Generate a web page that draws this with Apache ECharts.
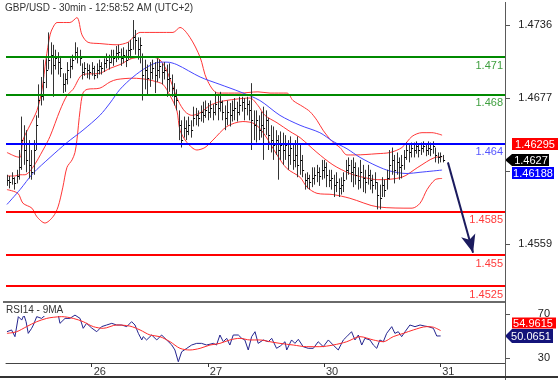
<!DOCTYPE html>
<html><head><meta charset="utf-8">
<script src="https://cdn.jsdelivr.net/npm/echarts@6/dist/echarts.min.js"></script>
<style>html,body{margin:0;padding:0;background:#fff}#c{width:558px;height:380px}</style>
</head><body><div id="c"></div>
<script>
const priceHigh = [1.4615,1.4614,1.4617,1.4613,1.4619,1.4635,1.4662,1.4655,1.4651,1.4643,
1.4635,1.4643,1.4663,1.4688,1.4694,1.4708,1.4709,1.4730,1.4722,1.4720,
1.4716,1.4714,1.4711,1.4697,1.4697,1.4706,1.4709,1.4712,1.4722,1.4718,
1.4716,1.4705,1.4706,1.4705,1.4704,1.4706,1.4703,1.4705,1.4708,1.4706,
1.4709,1.4713,1.4712,1.4716,1.4716,1.4719,1.4720,1.4717,1.4718,1.4716,
1.4722,1.4724,1.4740,1.4732,1.4726,1.4726,1.4713,1.4708,1.4704,1.4706,
1.4708,1.4706,1.4709,1.4708,1.4705,1.4706,1.4704,1.4705,1.4696,1.4689,
1.4684,1.4667,1.4659,1.4662,1.4659,1.4662,1.4659,1.4670,1.4669,1.4667,
1.4671,1.4674,1.4675,1.4673,1.4675,1.4672,1.4682,1.4679,1.4682,1.4675,
1.4671,1.4675,1.4673,1.4675,1.4677,1.4674,1.4678,1.4678,1.4677,1.4678,
1.4675,1.4689,1.4667,1.4667,1.4663,1.4666,1.4670,1.4667,1.4661,1.4655,
1.4654,1.4651,1.4647,1.4650,1.4649,1.4647,1.4643,1.4646,1.4639,1.4643,
1.4646,1.4639,1.4631,1.4616,1.4617,1.4615,1.4621,1.4621,1.4623,1.4621,
1.4627,1.4627,1.4625,1.4619,1.4619,1.4615,1.4617,1.4612,1.4613,1.4617,
1.4627,1.4629,1.4627,1.4629,1.4625,1.4621,1.4627,1.4623,1.4619,1.4623,
1.4619,1.4615,1.4617,1.4609,1.4607,1.4613,1.4611,1.4619,1.4635,1.4637,
1.4631,1.4633,1.4629,1.4631,1.4635,1.4641,1.4639,1.4641,1.4641,1.4642,
1.4640,1.4641,1.4642,1.4640,1.4642,1.4641,1.4642,1.4637,1.4633,1.4633,
1.4631];
const priceLow = [1.4606,1.4604,1.4607,1.4603,1.4608,1.4611,1.4619,1.4623,1.4617,1.4612,
1.4611,1.4615,1.4635,1.4661,1.4671,1.4675,1.4685,1.4700,1.4696,1.4678,
1.4700,1.4696,1.4694,1.4681,1.4682,1.4688,1.4693,1.4700,1.4708,1.4705,
1.4703,1.4692,1.4695,1.4693,1.4692,1.4695,1.4692,1.4693,1.4696,1.4696,
1.4698,1.4701,1.4700,1.4705,1.4703,1.4706,1.4708,1.4703,1.4705,1.4702,
1.4708,1.4709,1.4716,1.4712,1.4708,1.4705,1.4675,1.4684,1.4679,1.4686,
1.4692,1.4681,1.4690,1.4693,1.4688,1.4692,1.4678,1.4682,1.4678,1.4671,
1.4667,1.4643,1.4637,1.4645,1.4643,1.4647,1.4645,1.4654,1.4655,1.4654,
1.4658,1.4657,1.4661,1.4659,1.4661,1.4659,1.4663,1.4659,1.4666,1.4659,
1.4651,1.4655,1.4654,1.4658,1.4659,1.4658,1.4663,1.4666,1.4659,1.4663,
1.4659,1.4635,1.4643,1.4641,1.4643,1.4645,1.4627,1.4647,1.4635,1.4633,
1.4627,1.4631,1.4611,1.4627,1.4623,1.4627,1.4619,1.4623,1.4619,1.4621,
1.4613,1.4615,1.4613,1.4603,1.4604,1.4603,1.4605,1.4607,1.4609,1.4606,
1.4611,1.4612,1.4605,1.4605,1.4603,1.4597,1.4601,1.4597,1.4599,1.4601,
1.4611,1.4615,1.4609,1.4605,1.4607,1.4603,1.4604,1.4601,1.4600,1.4607,
1.4603,1.4600,1.4603,1.4587,1.4587,1.4597,1.4597,1.4603,1.4611,1.4615,
1.4608,1.4615,1.4611,1.4612,1.4619,1.4627,1.4625,1.4629,1.4629,1.4632,
1.4629,1.4631,1.4633,1.4630,1.4631,1.4630,1.4632,1.4625,1.4624,1.4625,
1.4625];
const priceClose = [1.4611,1.4609,1.4612,1.4608,1.4614,1.4621,1.4643,1.4635,1.4627,1.4623,
1.4617,1.4635,1.4655,1.4675,1.4679,1.4690,1.4700,1.4708,1.4712,1.4704,
1.4709,1.4706,1.4701,1.4688,1.4692,1.4700,1.4703,1.4708,1.4714,1.4711,
1.4709,1.4698,1.4701,1.4700,1.4698,1.4701,1.4696,1.4700,1.4703,1.4701,
1.4705,1.4708,1.4706,1.4711,1.4709,1.4713,1.4714,1.4709,1.4712,1.4708,
1.4716,1.4717,1.4726,1.4724,1.4717,1.4720,1.4696,1.4700,1.4693,1.4698,
1.4701,1.4696,1.4700,1.4703,1.4698,1.4700,1.4692,1.4693,1.4685,1.4679,
1.4675,1.4655,1.4643,1.4653,1.4650,1.4655,1.4651,1.4661,1.4663,1.4661,
1.4666,1.4663,1.4667,1.4666,1.4669,1.4666,1.4672,1.4669,1.4674,1.4666,
1.4661,1.4666,1.4663,1.4667,1.4669,1.4666,1.4671,1.4674,1.4669,1.4672,
1.4667,1.4659,1.4655,1.4659,1.4651,1.4655,1.4653,1.4659,1.4647,1.4643,
1.4639,1.4643,1.4635,1.4639,1.4635,1.4639,1.4631,1.4637,1.4627,1.4631,
1.4623,1.4627,1.4619,1.4611,1.4612,1.4609,1.4612,1.4615,1.4617,1.4614,
1.4619,1.4621,1.4615,1.4611,1.4612,1.4607,1.4609,1.4604,1.4607,1.4611,
1.4619,1.4623,1.4617,1.4621,1.4615,1.4611,1.4617,1.4612,1.4609,1.4615,
1.4611,1.4607,1.4609,1.4599,1.4596,1.4607,1.4603,1.4612,1.4623,1.4627,
1.4619,1.4625,1.4621,1.4623,1.4629,1.4635,1.4633,1.4637,1.4635,1.4638,
1.4635,1.4637,1.4638,1.4635,1.4637,1.4636,1.4638,1.4631,1.4629,1.4630,
1.4627];

const bbUpper = [[0,1.4633],[3.3,1.4630],[5.4,1.4629],[6.6,1.4643],[9.5,1.4655],[12.4,1.4667],[14.5,1.4684],[16.1,1.4708],[17.8,1.4728],[19.0,1.4734],[20.7,1.4738],[26.0,1.4738],[28.9,1.4742],[31.0,1.4728],[33.5,1.4722],[38.4,1.4721],[45.5,1.4720],[50.0,1.4722],[52.1,1.4726],[55.0,1.4730],[63.2,1.4730],[68.6,1.4730],[71.5,1.4734],[75.6,1.4726],[79.8,1.4710],[82.6,1.4692],[87.2,1.4681],[96.3,1.4681],[103.7,1.4682],[108.7,1.4681],[115.7,1.4681],[118.2,1.4675],[122.3,1.4670],[125.2,1.4666],[128.1,1.4659],[130.6,1.4651],[134.3,1.4642],[137.6,1.4637],[140.5,1.4631],[143.8,1.4631],[152.9,1.4632],[158.3,1.4633],[163.2,1.4637],[167.4,1.4646],[171.5,1.4649],[175.6,1.4649],[179.8,1.4647]];
const bbMiddle = [[0,1.4614],[3.3,1.4614],[5.4,1.4615],[7.4,1.4615],[10.7,1.4621],[14.9,1.4635],[17.8,1.4646],[21.9,1.4667],[24.8,1.4679],[27.3,1.4684],[31.4,1.4696],[38.4,1.4697],[42.6,1.4701],[46.7,1.4704],[51.7,1.4709],[58.3,1.4710],[62.4,1.4709],[65.3,1.4702],[68.2,1.4688],[70.7,1.4675],[73.6,1.4666],[76.4,1.4663],[79.8,1.4665],[83.9,1.4671],[88.0,1.4674],[94.2,1.4676],[100.4,1.4677],[103.7,1.4671],[106.6,1.4663],[111.6,1.4657],[116.9,1.4650],[121.1,1.4645],[128.1,1.4633],[134.7,1.4623],[141.7,1.4616],[147.1,1.4613],[153.3,1.4611],[163.2,1.4613],[169.8,1.4621],[176.9,1.4629],[179.8,1.46295]];
const bbLower = [[0,1.4603],[4.5,1.4600],[6.6,1.4592],[10.3,1.4588],[12.4,1.4581],[15.7,1.4576],[19.0,1.4581],[21.1,1.4589],[23.1,1.4605],[24.8,1.4621],[26.9,1.4627],[28.1,1.4633],[28.9,1.4643],[30.2,1.4667],[31.4,1.4681],[33.1,1.4684],[38.4,1.4685],[42.6,1.4690],[45.5,1.4692],[52.1,1.4693],[57.9,1.4692],[62.0,1.4690],[64.5,1.4688],[67.4,1.4679],[70.2,1.4667],[71.5,1.4651],[74.4,1.4641],[78.5,1.4635],[81.8,1.4637],[85.1,1.4643],[90.9,1.4654],[97.5,1.4658],[102.5,1.4656],[106.6,1.4647],[111.6,1.4631],[115.7,1.4620],[121.1,1.4613],[124.0,1.4605],[128.1,1.4600],[134.7,1.4599],[141.7,1.4596],[153.3,1.4589],[167.4,1.4588],[170.7,1.4592],[173.6,1.4603],[176.9,1.4611],[179.8,1.4612]];
const maBlue = [[0,1.4591],[5.4,1.4603],[10.7,1.4616],[17.8,1.4629],[24.8,1.4641],[31.4,1.4651],[38.4,1.4663],[42.6,1.4673],[46.7,1.4684],[52.1,1.4694],[57.9,1.4702],[63.2,1.4706],[66.1,1.4706],[70.2,1.4704],[79.8,1.4694],[88.0,1.4688],[96.3,1.4682],[104.5,1.4675],[112.8,1.4663],[121.1,1.4655],[129.3,1.4649],[134.7,1.4642],[140.5,1.4636],[145.9,1.4629],[152.9,1.4622],[158.3,1.4618],[165.3,1.4616],[170.7,1.4617],[179.8,1.46188]];

const rsiLine = [[0,53.9],[1.9,55.5],[3.3,49.4],[4.7,67.6],[6.1,64.5],[7.0,69.1],[7.9,63],[8.8,52.4],[10.2,57],[10.9,60],[12.3,67.6],[14.3,66],[16.4,70],[19.1,71],[21.2,69.1],[21.9,61.5],[24.0,66],[26.0,66],[28.1,69],[30.2,66],[31.5,57],[32.9,61.5],[35.0,57.3],[37.1,53.9],[39.1,58.5],[41.2,60],[43.3,61.5],[45.3,60],[47.4,60],[49.5,58.5],[51.5,63],[52.9,60],[54.3,52.4],[55.7,46.4],[56.3,49.4],[57.7,46.4],[59.8,50.9],[61.9,46.4],[63.9,50.9],[66.0,46.4],[68.1,41.8],[69.4,37.3],[70.8,26.6],[72.2,35.7],[74.3,38.8],[76.3,41.8],[78.4,43.3],[80.4,43.3],[82.5,41.8],[85.3,43.3],[86.6,41.8],[88.0,50.9],[89.4,44.8],[90.8,47.9],[92.1,41.8],[93.5,50.9],[95.6,50.9],[97.0,47.9],[98.3,46.4],[99.7,37.3],[101.1,49.4],[102.5,53.9],[103.8,43.3],[105.9,46.4],[108.0,44.8],[109.4,47.9],[111.4,38.8],[113.0,41],[114.9,44.8],[115.6,37.3],[117.6,46.4],[119.0,43.3],[120.4,47],[122.4,40.3],[124.5,38.8],[126.6,38.8],[128.6,44.8],[130.7,40.3],[132.8,46.4],[134.8,41.8],[136.9,37.3],[139.0,46.4],[140.4,49.4],[142.4,53.9],[143.8,46.4],[145.2,50.9],[146.6,41.8],[147.9,47.9],[150.0,46.4],[151.4,41.8],[152.8,38.8],[154.1,46.4],[155.5,44.8],[156.9,52.4],[159.0,58.5],[160.3,52.4],[161.7,53.9],[163.1,49.4],[164.5,53.9],[166.5,60],[168.6,58.5],[170.7,60],[172.7,59],[174.1,58.5],[176.2,57],[177.6,50],[179.2,50.0651]];
const rsiMA = [[0,52.4],[4.0,53.9],[8.1,58.5],[12.3,63],[16.4,66],[19.1,67],[22.6,67.6],[27.4,66],[31.5,63],[35.7,58.5],[39.8,57],[45.3,60],[50.8,59],[55.0,55.5],[59.1,50.9],[63.2,49.4],[67.4,44.8],[71.5,38.8],[75.6,37.3],[79.8,38.8],[83.9,41.8],[88.0,43.3],[92.1,46.4],[96.3,47.9],[100.4,46.4],[104.5,46.4],[108.7,44.8],[112.8,43.3],[118.3,41.8],[123.8,40.3],[129.3,40.3],[134.8,41.8],[140.4,44.8],[145.9,49.4],[151.4,46.4],[155.5,44.8],[159.6,49.4],[163.8,52.4],[167.9,55.5],[173.4,58.5],[176.2,58],[179.2,54.9615]];

const levels = [1.471, 1.468, 1.464, 1.4585, 1.455, 1.4525];
const priceTicks = [1.4736, 1.4677, 1.4618, 1.4559];
const priceTickLabels = [1.4736, 1.4677, 1.4559];
const rsiTicks = [70, 30];
const dayTicks = [35, 83, 131, 179];
const dayLabels = ['26', '27', '30', '31'];
const priceTags = [1.46295, 1.4627, 1.46188];
const rsiTags = [54.9615, 50.0651];
const arrowFrom = [182.2, 1.4625];
const arrowTo = [192.6, 1.4552];

const FONT = 'Liberation Sans, Arial, sans-serif';
const X_MIN = -0.4, X_MAX = 205.8;
const levelLine = ['#008a00', '#008a00', '#0000ff', '#ff0000', '#ff0000', '#ff0000'];
const levelText = ['#3f9f3f', '#3f9f3f', '#5656ff', '#ff3b3b', '#ff3b3b', '#ff3b3b'];

const bars = priceHigh.map((h, i) => [i, h, priceLow[i], priceClose[i]]);

function tagRenderer(styles) {
  return function (params, api) {
    const k = params.dataIndex;
    const s = styles[k];
    const pt = api.coord([api.value(0), api.value(1)]);
    const x0 = params.coordSys.x + params.coordSys.width;
    const y = Math.round(pt[1] + s.dy);
    const hh = s.h / 2;
    let pts;
    if (s.arrow) {
      pts = [[x0, y], [x0 + 7, y - hh], [s.x2, y - hh], [s.x2, y + hh], [x0 + 7, y + hh]];
    } else {
      pts = [[s.x1, y - hh], [s.x2, y - hh], [s.x2, y + hh], [s.x1, y + hh]];
    }
    return {
      type: 'group',
      children: [
        { type: 'polygon', shape: { points: pts }, style: { fill: s.fill } },
        { type: 'text', style: { text: String(s.values[k]), x: s.tx, y: y + 0.5, fill: '#fff', font: '11px ' + FONT, align: 'center', verticalAlign: 'middle' } }
      ]
    };
  };
}

function tickRenderer(params, api) {
  const pt = api.coord([api.value(0), api.value(1)]);
  const x0 = params.coordSys.x + params.coordSys.width;
  const y = Math.round(pt[1]) + 0.5;
  return { type: 'line', shape: { x1: x0, y1: y, x2: x0 + 5, y2: y }, style: { stroke: '#555', lineWidth: 1 } };
}

const priceTagStyle = [
  { fill: '#ff0000', dy: -13, h: 12, x1: 512, x2: 560, tx: 535, values: priceTags },
  { fill: '#000000', dy: 0, h: 12, arrow: true, x2: 549, tx: 531, values: priceTags },
  { fill: '#0000ff', dy: 3, h: 12, x1: 512, x2: 554, tx: 533, values: priceTags }
];
const rsiTagStyle = [
  { fill: '#ff0000', dy: -8, h: 11, x1: 512, x2: 556, tx: 533, values: rsiTags },
  { fill: '#14147a', dy: 0, h: 14, arrow: true, x2: 553, tx: 531, values: rsiTags }
];

const chart = echarts.init(document.getElementById('c'), null, { renderer: 'canvas' });
chart.setOption({
  animation: false,
  backgroundColor: '#ffffff',
  textStyle: { fontFamily: FONT },
  title: [
    { text: 'GBP/USD - 30min - 12:58:52 AM (UTC+2)', left: 5, top: 3, padding: 0,
      textStyle: { fontSize: 10, fontWeight: 'normal', color: '#333', fontFamily: FONT } },
    { text: 'RSI14 - 9MA', left: 5, top: 304, padding: [1, 2, 1, 1], backgroundColor: '#fff',
      textStyle: { fontSize: 10, fontWeight: 'normal', color: '#333', fontFamily: FONT } }
  ],
  grid: [
    { left: 6, right: 53, top: 0, height: 300 },
    { left: 6, right: 53, top: 302, height: 61 }
  ],
  xAxis: [
    { type: 'value', gridIndex: 0, min: X_MIN, max: X_MAX, show: false },
    { type: 'value', gridIndex: 1, min: X_MIN, max: X_MAX,
      axisLine: { show: true, lineStyle: { color: '#444', width: 1 } },
      axisTick: { show: true, customValues: dayTicks, length: 4, inside: false, lineStyle: { color: '#333' } },
      axisLabel: { show: true, customValues: dayTicks, formatter: v => dayLabels[dayTicks.indexOf(v)],
        align: 'left', margin: 3, padding: [0, 0, 0, 2], fontSize: 11, color: '#333', fontFamily: FONT },
      splitLine: { show: false } }
  ],
  yAxis: [
    { type: 'value', gridIndex: 0, position: 'right', min: 1.45138, max: 1.47562,
      axisLine: { show: false }, axisTick: { show: false },
      axisLabel: { show: true, customValues: priceTickLabels, formatter: v => v.toFixed(4),
        align: 'right', margin: 47, fontSize: 11, color: '#222', fontFamily: FONT },
      splitLine: { show: false } },
    { type: 'value', gridIndex: 1, position: 'right', min: 25.46, max: 80.91,
      axisLine: { show: false }, axisTick: { show: false },
      axisLabel: { show: true, customValues: rsiTicks, formatter: v => String(v),
        align: 'right', margin: 45, fontSize: 11, color: '#222', fontFamily: FONT },
      splitLine: { show: false } }
  ],
  series: [
    { type: 'line', name: 'bbUpper', xAxisIndex: 0, yAxisIndex: 0, data: bbUpper, showSymbol: false, smooth: 0.3,
      lineStyle: { color: '#ff3636', width: 1 }, z: 3 },
    { type: 'line', name: 'bbMiddle', xAxisIndex: 0, yAxisIndex: 0, data: bbMiddle, showSymbol: false, smooth: 0.3,
      lineStyle: { color: '#ff3636', width: 1 }, z: 3 },
    { type: 'line', name: 'bbLower', xAxisIndex: 0, yAxisIndex: 0, data: bbLower, showSymbol: false, smooth: 0.3,
      lineStyle: { color: '#ff3636', width: 1 }, z: 3 },
    { type: 'line', name: 'ma', xAxisIndex: 0, yAxisIndex: 0, data: maBlue, showSymbol: false, smooth: 0.3,
      lineStyle: { color: '#4646ff', width: 1 }, z: 3,
      markLine: {
        silent: true, animation: false, symbol: ['none', 'none'], precision: 5,
        data: levels.map((v, k) => ({
          yAxis: v,
          lineStyle: { color: levelLine[k], width: 2, type: 'solid' },
          label: { show: true, position: 'insideEndBottom', formatter: () => String(v), color: levelText[k],
            fontSize: 11, fontFamily: FONT, distance: [2, 3] }
        })).concat([[
          { coord: arrowFrom, symbol: 'none', lineStyle: { color: '#1b1b5e', width: 2, type: 'solid' }, label: { show: false } },
          { coord: arrowTo, symbol: 'arrow', symbolSize: [11, 18], lineStyle: { color: '#1b1b5e', width: 2, type: 'solid' }, label: { show: false } }
        ]])
      } },
    { type: 'custom', name: 'bars', xAxisIndex: 0, yAxisIndex: 0, data: bars, z: 4,
      renderItem: function (params, api) {
        const i = api.value(0);
        const hi = api.coord([i, api.value(1)]);
        const lo = api.coord([i, api.value(2)]);
        const cl = api.coord([i, api.value(3)]);
        const x = Math.round(hi[0]) + 0.5;
        return { type: 'group', children: [
          { type: 'line', shape: { x1: x, y1: hi[1], x2: x, y2: lo[1] }, style: { stroke: '#333', lineWidth: 1 } },
          { type: 'line', shape: { x1: x, y1: Math.round(cl[1]) + 0.5, x2: x + 1.6, y2: Math.round(cl[1]) + 0.5 }, style: { stroke: '#000', lineWidth: 1 } }
        ] };
      } },
    { type: 'custom', name: 'priceTicks', xAxisIndex: 0, yAxisIndex: 0, clip: false, z: 9,
      data: priceTicks.map(v => [X_MAX, v]), renderItem: tickRenderer },
    { type: 'custom', name: 'priceTags', xAxisIndex: 0, yAxisIndex: 0, clip: false, z: 10,
      data: priceTags.map(v => [X_MAX, v]), renderItem: tagRenderer(priceTagStyle) },
    { type: 'line', name: 'rsi', xAxisIndex: 1, yAxisIndex: 1, data: rsiLine, showSymbol: false,
      lineStyle: { color: '#25258f', width: 1 }, z: 3 },
    { type: 'line', name: 'rsiMA', xAxisIndex: 1, yAxisIndex: 1, data: rsiMA, showSymbol: false, smooth: 0.3,
      lineStyle: { color: '#ff2a2a', width: 1 }, z: 3 },
    { type: 'custom', name: 'rsiTicks', xAxisIndex: 1, yAxisIndex: 1, clip: false, z: 9,
      data: rsiTicks.map(v => [X_MAX, v]), renderItem: tickRenderer },
    { type: 'custom', name: 'rsiTags', xAxisIndex: 1, yAxisIndex: 1, clip: false, z: 10,
      data: rsiTags.map(v => [X_MAX, v]), renderItem: tagRenderer(rsiTagStyle) }
  ],
  graphic: [
    { type: 'line', shape: { x1: 505.5, y1: 2, x2: 505.5, y2: 380 }, style: { stroke: '#5a5a5a', lineWidth: 1 }, z: 20 },
    { type: 'line', shape: { x1: 3, y1: 302, x2: 505, y2: 302 }, style: { stroke: '#6a6a6a', lineWidth: 2 }, z: 20 },
    { type: 'line', shape: { x1: 0, y1: 377, x2: 558, y2: 377 }, style: { stroke: '#333', lineWidth: 2 }, z: 20 }
  ]
});
</script>
</body></html>
